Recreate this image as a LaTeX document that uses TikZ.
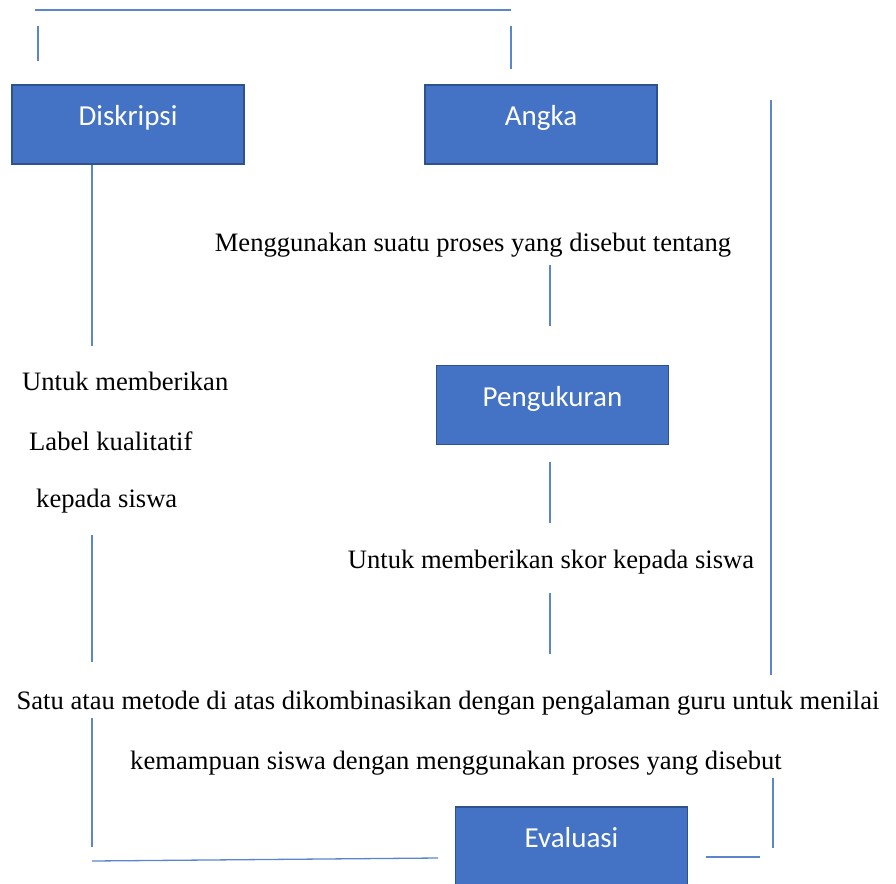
\documentclass[tikz,border=0pt]{standalone}
\usepackage{fontspec}
\setmainfont{Liberation Serif}
\newfontfamily\boxfont{Carlito}
\usetikzlibrary{positioning}
\definecolor{boxblue}{RGB}{68,114,196}
\definecolor{boxedge}{RGB}{47,82,143}
\definecolor{linkblue}{RGB}{91,134,206}
\tikzset{
  box/.style={rectangle, draw=boxedge, fill=boxblue, line width=1.5pt,
    minimum width=232pt, minimum height=79pt, text=white,
    font=\boxfont\fontsize{29}{30}\selectfont, text height=12pt, text depth=10pt},
  txt/.style={font=\fontsize{26.6}{28}\selectfont, inner sep=0pt},
  link/.style={draw=linkblue, line width=1.3pt},
}

\begin{document}
\begin{tikzpicture}[x=1pt,y=-1pt]
	\useasboundingbox (0,0) rectangle (896,883);
	\clip (0,0) rectangle (896,883);
	
	\node[box] (diskripsi) at (128,124.5) {Diskripsi};
	\node[box] (angka) at (541,124.5) {Angka};
	\node[box] (pengukuran) at (552.5,405) {Pengukuran};
	\node[box] (evaluasi) at (571.5,846.5) {Evaluasi};
	
	\node[txt] (tentang) at (473,245) {Menggunakan suatu proses yang disebut tentang};
	\node[txt] (skor) at (551,562) {Untuk memberikan skor kepada siswa};
	\node[txt, anchor=west] (label1) at (22,381) {Untuk memberikan};
	\node[txt, anchor=west] (label2) at (29,441) {Label kualitatif};
	\node[txt, anchor=west] (label3) at (36,501) {kepada siswa};
	\node[txt] (gabung1) at (448,703) {Satu atau metode di atas dikombinasikan dengan pengalaman guru untuk menilai};
	\node[txt] (gabung2) at (456,763) {kemampuan siswa dengan menggunakan proses yang disebut};
	
	% garis-garis penghubung
	\foreach \n/\a/\b in {atas/{35,10}/{511,10}, kiri/{38,26}/{38,61}, kanan/{511,26}/{511,69},
		tepi/{771,100}/{771,675}, dk/{92,165}/{92,346}, mt/{550,265}/{550,326},
		pu/{550,462}/{550,523}, us/{550,593}/{550,654}, ks/{92,535}/{92,662},
		se/{92,718}/{92,847}, ke/{773,778}/{773,848}, bawah/{92,861}/{438,858},
		ujung/{706,857}/{760,857}}{
		\coordinate (\n1) at (\a);
		\coordinate (\n2) at (\b);
		\draw[link] (\n1) -- (\n2);
	}
\end{tikzpicture}
\end{document}
